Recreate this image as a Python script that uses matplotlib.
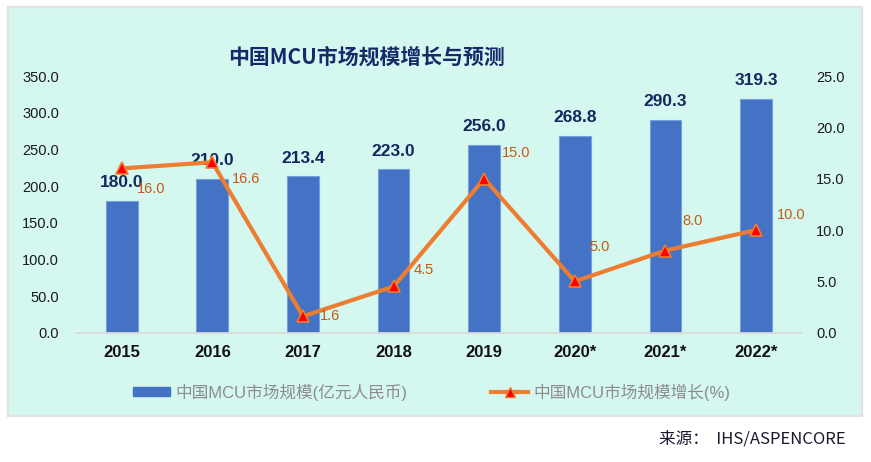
import matplotlib
matplotlib.use('Agg')
import matplotlib.pyplot as plt
from matplotlib.patches import Rectangle, Patch
from matplotlib.lines import Line2D

plt.rcParams['font.family'] = ['Liberation Sans', 'Noto Sans CJK SC', 'DejaVu Sans']

# data
years = ['2015', '2016', '2017', '2018', '2019', '2020*', '2021*', '2022*']
market = [180.0, 210.0, 213.4, 223.0, 256.0, 268.8, 290.3, 319.3]
growth = [16.0, 16.6, 1.6, 4.5, 15.0, 5.0, 8.0, 10.0]
left_ticks = [0, 50, 100, 150, 200, 250, 300, 350]
right_ticks = [0, 5, 10, 15, 20, 25]

title = '中国MCU市场规模增长与预测'
bar_name = '中国MCU市场规模(亿元人民币)'
line_name = '中国MCU市场规模增长(%)'
source = '来源：  IHS/ASPENCORE'

# hand placed label offsets (pixels) for the growth labels, like the excel original
growth_offsets = [(15, -21), (20, -17), (17, 0), (20, 16), (18, 26), (15, 34), (17, 30), (21, 15)]

W, H = 871, 462
fig = plt.figure(figsize=(W / 100, H / 100), dpi=100)
fig.patch.set_facecolor('white')

# mint panel behind the chart
panel = Rectangle((8 / W, 1 - 416 / H), (862 - 8) / W, (416 - 7) / H,
                  transform=fig.transFigure, facecolor='#d4f8f0',
                  edgecolor='#e2e2e2', linewidth=1.6, zorder=-1)
fig.patches.append(panel)

ax = fig.add_axes([76.4 / W, 1 - 332.7 / H, (801.4 - 76.4) / W, (332.7 - 76) / H])
ax.patch.set_alpha(0)
x = list(range(len(years)))

bars = ax.bar(x, market, width=0.35, color='#4472c4', edgecolor='#77a0e2',
              linewidth=0.8, zorder=2)
ax.set_ylim(0, 350)
ax.set_xlim(-0.5, len(years) - 0.5)
ax.set_yticks(left_ticks)
ax.set_yticklabels(['%.1f' % t for t in left_ticks])
ax.set_xticks(x)
ax.set_xticklabels(years, fontweight='bold', fontsize=12, color='#111111')
ax.tick_params(axis='y', length=0, pad=12.5, labelsize=10.5, labelcolor='#1a1a1a')
ax.tick_params(axis='x', length=0, pad=9)
for s in ['top', 'right', 'left']:
    ax.spines[s].set_visible(False)
ax.spines['bottom'].set_color('#d9d9d9')
ax.spines['bottom'].set_linewidth(1.3)

for xi, v in zip(x, market):
    ax.annotate('%.1f' % v, (xi, v), xytext=(0, 18), textcoords='offset pixels',
                ha='center', va='center', fontsize=12.5, fontweight='bold',
                color='#16275f', zorder=5)

ax2 = ax.twinx()
ax2.patch.set_alpha(0)
ax2.set_ylim(0, 25)
ax2.set_yticks(right_ticks)
ax2.set_yticklabels(['%.1f' % t for t in right_ticks])
ax2.tick_params(axis='y', length=0, pad=10.5, labelsize=10.5, labelcolor='#1a1a1a')
for s in ['top', 'right', 'left', 'bottom']:
    ax2.spines[s].set_visible(False)

ax2.plot(x, growth, color='#ed7d31', linewidth=3, marker='^', markersize=8,
         markerfacecolor='#ff0000', markeredgecolor='#ed7d31', markeredgewidth=1.2,
         zorder=4)
for xi, v, off in zip(x, growth, growth_offsets):
    ax2.annotate('%.1f' % v, (xi, v), xytext=off, textcoords='offset pixels',
                 ha='left', va='center', fontsize=10.5, color='#c55a11', zorder=5)

fig.text(366 / W, 1 - 57 / H, title, ha='center', va='center', fontsize=15,
         fontweight='bold', color='#17286b', family=['Noto Sans CJK SC', 'DejaVu Sans'])

handles = [Patch(facecolor='#4472c4', edgecolor='#4472c4'),
           Line2D([], [], color='#ed7d31', linewidth=3, marker='^', markersize=7,
                  markerfacecolor='#ff0000', markeredgecolor='#ed7d31')]
leg = fig.legend(handles, [bar_name, line_name], loc='center', ncol=2,
                 bbox_to_anchor=(432 / W, 1 - 392 / H), frameon=False,
                 prop={'family': ['Liberation Sans', 'Noto Sans CJK SC'], 'size': 12},
                 handlelength=2.2, handleheight=0.5, handletextpad=0.35,
                 columnspacing=5.0, labelcolor='#8c8c8c')

fig.text(846 / W, 1 - 439 / H, source, ha='right', va='center', fontsize=12,
         color='#1a1a2e', family=['Noto Sans CJK SC', 'DejaVu Sans'])

fig.savefig('out.png', dpi=100)
